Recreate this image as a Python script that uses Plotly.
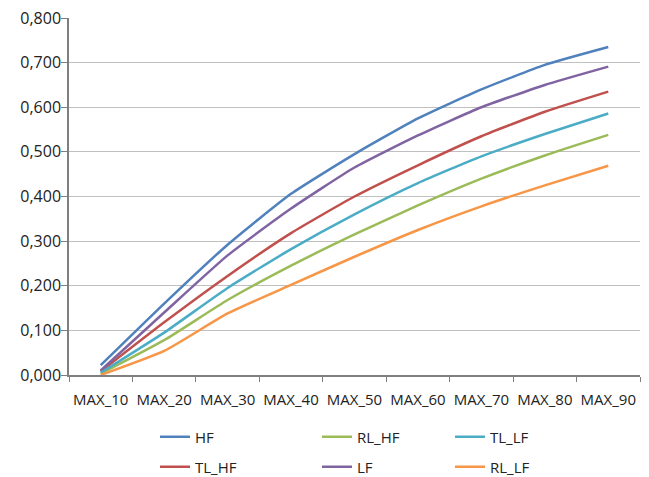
import plotly.graph_objects as go

categories = ["MAX_10", "MAX_20", "MAX_30", "MAX_40", "MAX_50", "MAX_60", "MAX_70", "MAX_80", "MAX_90"]

HF = [0.022, 0.160, 0.292, 0.406, 0.495, 0.575, 0.640, 0.695, 0.735]
TL_HF = [0.008, 0.118, 0.222, 0.318, 0.400, 0.470, 0.535, 0.590, 0.635]
RL_HF = [0.003, 0.078, 0.168, 0.245, 0.315, 0.380, 0.440, 0.492, 0.538]
LF = [0.010, 0.140, 0.268, 0.373, 0.465, 0.537, 0.600, 0.650, 0.691]
TL_LF = [0.005, 0.095, 0.195, 0.282, 0.360, 0.430, 0.490, 0.540, 0.586]
RL_LF = [0.000, 0.054, 0.138, 0.202, 0.265, 0.325, 0.378, 0.425, 0.469]

series = [
    ("HF", HF, "#4F81BD", "legend"),
    ("TL_HF", TL_HF, "#C0504D", "legend2"),
    ("RL_HF", RL_HF, "#9BBB59", "legend3"),
    ("LF", LF, "#8064A2", "legend4"),
    ("TL_LF", TL_LF, "#4BACC6", "legend5"),
    ("RL_LF", RL_LF, "#F79646", "legend6"),
]

FONT = "Open Sans"
FS = 15
fig = go.Figure()
for name, vals, color, lg in series:
    fig.add_trace(go.Scatter(
        x=categories, y=vals, name=name, mode="lines",
        line=dict(color=color, width=2.5, shape="spline", smoothing=0.5),
        legend=lg,
    ))

# plot area: x 69..640, y 18..375
W, H = 649, 477
L, R, T, B = 69, 9, 18, 102
pw = W - L - R
ph = H - T - B

def lx(px):
    return (px - L) / pw

def ly(py):
    return (H - B - py) / ph

legend_pos = {
    "legend": (155, 437),
    "legend2": (155, 467),
    "legend3": (317, 437),
    "legend4": (317, 467),
    "legend5": (450, 437),
    "legend6": (450, 467),
}

layout_legends = {}
for key, (px, py) in legend_pos.items():
    layout_legends[key] = dict(
        x=lx(px), y=ly(py), xanchor="left", yanchor="middle",
        bgcolor="rgba(0,0,0,0)", font=dict(family=FONT, size=FS, color="#222222"),
        itemwidth=30,
    )

fig.update_layout(
    width=W, height=H,
    margin=dict(l=L, r=R, t=T, b=B, autoexpand=False),
    paper_bgcolor="white", plot_bgcolor="white",
    separators=",.",
    showlegend=True,
    font=dict(family=FONT, size=FS, color="#222222"),
    **layout_legends,
)

fig.update_xaxes(
    type="category", range=[-0.5, 8.5],
    showline=True, linecolor="#7f7f7f", linewidth=1.5,
    ticks="outside", ticklen=5, tickcolor="#7f7f7f", tickson="boundaries",
    showgrid=False, tickangle=0, ticklabelstandoff=10,
    tickfont=dict(family=FONT, size=FS, color="#222222"),
    automargin=False, fixedrange=True,
)
fig.update_yaxes(
    range=[0, 0.8], dtick=0.1, tickformat=".3f",
    showline=True, linecolor="#7f7f7f", linewidth=1.5,
    ticks="outside", ticklen=6, tickcolor="#7f7f7f",
    showgrid=True, gridcolor="#c0c0c0", gridwidth=1.2,
    zeroline=False, ticklabelstandoff=-3,
    tickfont=dict(family=FONT, size=16, color="#222222"),
    automargin=False, fixedrange=True,
)

fig.write_html("out.html")
